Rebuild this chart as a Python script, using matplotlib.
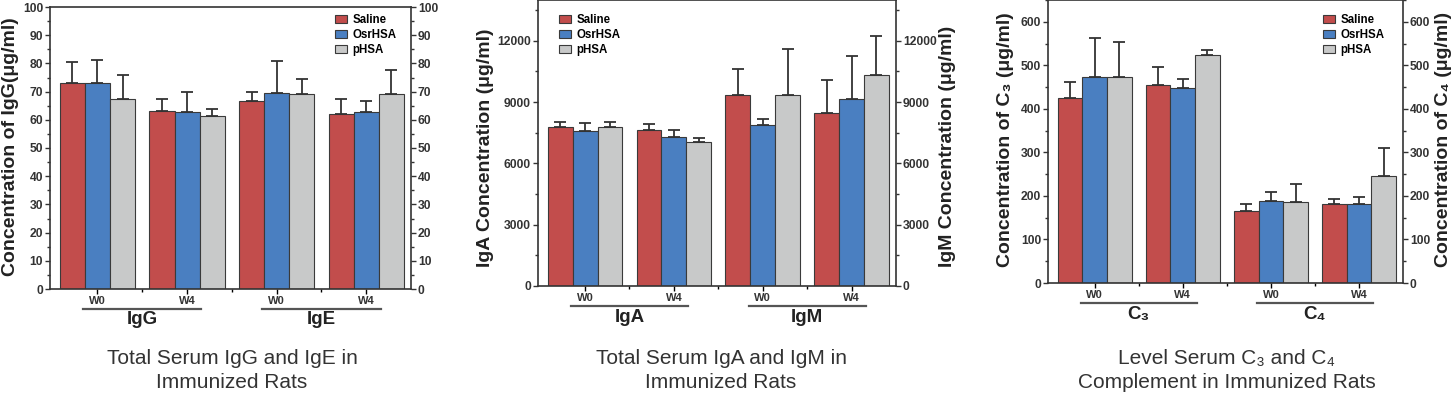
import matplotlib
matplotlib.use('Agg')
import matplotlib.pyplot as plt
import matplotlib.transforms as mtransforms
import numpy as np

plt.rcParams['font.family'] = ['Liberation Sans', 'DejaVu Sans']

# ---- data ----
weeks = ['W0', 'W4', 'W0', 'W4']
series = ['Saline', 'OsrHSA', 'pHSA']
colors = ['#C24D4C', '#4A7FC1', '#C8C9C9']

# IgG / IgE (ug/ml)
igg_groups = ['IgG', 'IgE']
igg_saline = [73.0, 63.0, 66.6, 62.1]
igg_saline_err = [7.6, 4.5, 3.2, 5.2]
igg_osr = [73.0, 62.6, 69.4, 62.6]
igg_osr_err = [8.3, 7.1, 11.3, 4.2]
igg_phsa = [67.5, 61.5, 69.1, 69.1]
igg_phsa_err = [8.3, 2.5, 5.5, 8.6]

# IgA / IgM (ug/ml)
iga_groups = ['IgA', 'IgM']
iga_saline = [7800, 7650, 9335, 8485]
iga_saline_err = [230, 280, 1290, 1620]
iga_osr = [7585, 7308, 7863, 9139]
iga_osr_err = [375, 310, 330, 2110]
iga_phsa = [7800, 7030, 9335, 10348]
iga_phsa_err = [230, 210, 2255, 1900]

# C3 / C4 (ug/ml)
c_groups = ['C\u2083', 'C\u2084']
c_saline = [425, 454, 165, 181]
c_saline_err = [36, 42, 16, 11]
c_osr = [473, 447, 188, 181]
c_osr_err = [89, 21, 22, 17]
c_phsa = [473, 523, 185, 245]
c_phsa_err = [80, 12, 42, 66]

W, H = 1453, 396
fig = plt.figure(figsize=(W / 100, H / 100), dpi=100)


def add_px_axes(l, r, t, b):
    return fig.add_axes([l / W, 1 - b / H, (r - l) / W, (b - t) / H])


def draw_panel(ax, means, errs, ylim, major, minor, groups, legend_xy):
    x = np.arange(len(weeks))
    width = 0.28
    for k, (m, e) in enumerate(zip(means, errs)):
        xs = x + (k - 1) * width
        ax.bar(xs, m, width, color=colors[k], edgecolor='#3a3a3a',
               linewidth=0.8, label=series[k], zorder=2)
        ax.errorbar(xs, m, yerr=[np.zeros(len(e)), e], fmt='none',
                    ecolor='#333333', elinewidth=1.3, capsize=4,
                    capthick=1.3, zorder=3)
    ax.set_xlim(-0.53, 3.5)
    ax.set_ylim(*ylim)
    ax.set_yticks(np.arange(0, ylim[1] + 1, minor), minor=True)
    ax.set_yticks(np.arange(0, ylim[1] + 1, major))
    ax.set_xticks(x)
    ax.set_xticklabels(weeks, fontsize=8, fontweight='bold', color='#333333')
    ax.set_xticks([0.5, 1.5, 2.5], minor=True)
    ax.tick_params(axis='y', which='both', left=True, right=True,
                   labelleft=True, labelright=True, direction='out',
                   colors='#333333')
    ax.tick_params(axis='y', which='major', length=3.5, width=1, pad=1.5,
                   labelsize=8.7)
    ax.tick_params(axis='y', which='minor', length=2, width=1)
    ax.tick_params(axis='x', which='major', length=3.5, width=1, pad=1.5)
    ax.tick_params(axis='x', which='minor', length=2, width=1)
    for sp in ax.spines.values():
        sp.set_linewidth(1.2)
        sp.set_color('#333333')

    # group underline + group name
    blend = mtransforms.blended_transform_factory(ax.transData, ax.transAxes)
    line_tr = blend + mtransforms.ScaledTranslation(0, -0.20, fig.dpi_scale_trans)
    text_tr = blend + mtransforms.ScaledTranslation(0, -0.31, fig.dpi_scale_trans)
    for g, start in zip(groups, [0, 2]):
        ax.plot([start - 0.16, start + 1.16], [0, 0], color='#555555',
                lw=1.6, transform=line_tr, clip_on=False)
        ax.text(start + 0.5, 0, g, transform=text_tr, ha='center',
                va='center', fontsize=13.5, fontweight='bold', color='#222222')

    ax.legend(loc='upper left', bbox_to_anchor=legend_xy, frameon=False,
              prop={'size': 8.3, 'weight': 'bold'}, handlelength=1.0,
              handleheight=0.7, handletextpad=0.5, labelspacing=0.25,
              borderpad=0, borderaxespad=0)


def bold_ticks(ax):
    for lab in ax.get_yticklabels():
        lab.set_fontweight('bold')


ax1 = add_px_axes(50, 411, 7, 289)
draw_panel(ax1, [igg_saline, igg_osr, igg_phsa],
           [igg_saline_err, igg_osr_err, igg_phsa_err],
           (0, 100), 10, 5, igg_groups, (0.79, 0.975))
bold_ticks(ax1)

ax2 = add_px_axes(538, 896, 0, 286)
draw_panel(ax2, [iga_saline, iga_osr, iga_phsa],
           [iga_saline_err, iga_osr_err, iga_phsa_err],
           (0, 14000), 3000, 1500, iga_groups, (0.06, 0.95))
ax2.set_yticks(np.arange(0, 12001, 3000))
bold_ticks(ax2)

ax3 = add_px_axes(1048, 1403, 0, 283)
draw_panel(ax3, [c_saline, c_osr, c_phsa],
           [c_saline_err, c_osr_err, c_phsa_err],
           (0, 650), 100, 50, c_groups, (0.775, 0.95))
ax3.set_yticks(np.arange(0, 601, 100))
bold_ticks(ax3)

# axis labels
lab_kw = dict(rotation=90, ha='center', va='center', fontsize=14,
              fontweight='bold', color='#222222')
fig.text(11 / W, 1 - 147 / H, 'Concentration of IgG(\u03bcg/ml)', **lab_kw)
fig.text(486 / W, 1 - 148 / H, 'IgA Concentration (\u03bcg/ml)', **lab_kw)
fig.text(948 / W, 1 - 146 / H, 'IgM Concentration (\u03bcg/ml)', **lab_kw)
fig.text(1005 / W, 1 - 140 / H, 'Concentration of C\u2083 (\u03bcg/ml)', **lab_kw)
fig.text(1443 / W, 1 - 139 / H, 'Concentration of C\u2084 (\u03bcg/ml)', **lab_kw)

# captions
cap_kw = dict(ha='center', va='top', fontsize=15, color='#333333',
              linespacing=1.35)
fig.text(232 / W, 1 - 349 / H, 'Total Serum IgG and IgE in\nImmunized Rats', **cap_kw)
fig.text(721 / W, 1 - 349 / H, 'Total Serum IgA and IgM in\nImmunized Rats', **cap_kw)
fig.text(1227 / W, 1 - 349 / H,
         'Level Serum C\u2083 and C\u2084\nComplement in Immunized Rats', **cap_kw)

fig.savefig('out.png', dpi=100)
